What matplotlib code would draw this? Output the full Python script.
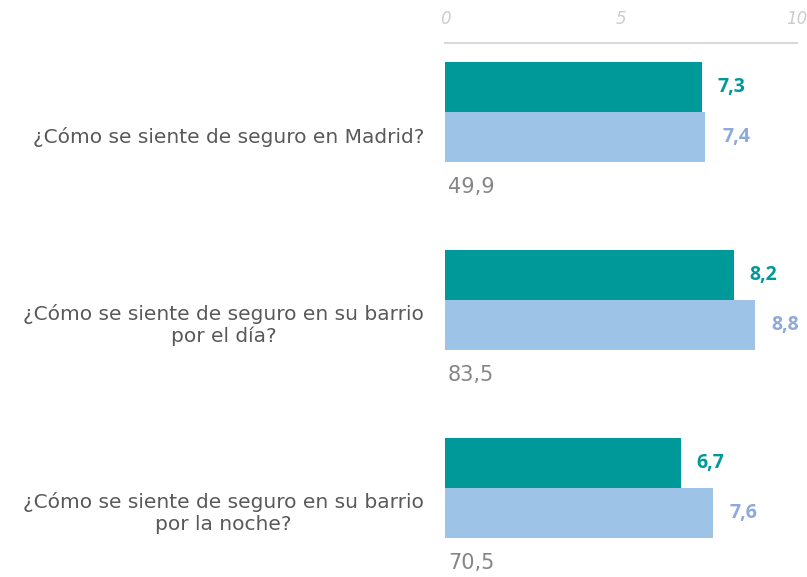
import matplotlib.pyplot as plt
import numpy as np

plt.rcParams["font.family"] = ["DejaVu Sans"]

categories = [
    "¿Cómo se siente de seguro en Madrid?",
    "¿Cómo se siente de seguro en su barrio\npor el día?",
    "¿Cómo se siente de seguro en su barrio\npor la noche?",
]
series_a = [7.3, 8.2, 6.7]
series_b = [7.4, 8.8, 7.6]
series_c = [49.9, 83.5, 70.5]
tick_values = [0, 5, 10]

teal = "#009999"
light_blue = "#9DC3E6"
blue_label = "#8EA9DB"
text_gray = "#595959"

fig = plt.figure(figsize=(8.07, 5.77), dpi=100)
ax = fig.add_axes([445 / 807, 0, 352 / 807, (577 - 43) / 577])

y = np.arange(len(categories))
h = 50 / 188

ax.barh(y - h, series_a, height=h, color=teal)
ax.barh(y, series_b, height=h, color=light_blue)
ax.barh(y + h, series_c, height=h, color="none")

for yi, va, vb, vc in zip(y, series_a, series_b, series_c):
    ax.annotate(f"{va:.1f}".replace(".", ","), (va, yi - h), xytext=(11, 0),
                textcoords="offset points", va="center", ha="left",
                color=teal, fontsize=14, fontweight="bold", family="Open Sans")
    ax.annotate(f"{vb:.1f}".replace(".", ","), (vb, yi), xytext=(12, 0),
                textcoords="offset points", va="center", ha="left",
                color=blue_label, fontsize=14, fontweight="bold", family="Open Sans")
    ax.annotate(f"{vc:.1f}".replace(".", ","), (0, yi + h), xytext=(2, 0),
                textcoords="offset points", va="center", ha="left",
                color="#858585", fontsize=15)
    ax.annotate(categories[int(yi)], (0, yi), xytext=(-15, 0),
                textcoords="offset points", va="center", ha="right",
                multialignment="center", color=text_gray, fontsize=14.5,
                linespacing=1.15, annotation_clip=False)

ax.set_xlim(0, 10)
ax.set_ylim((577 - 137) / 188, -0.5)
ax.set_xticks(tick_values)
ax.xaxis.tick_top()
ax.tick_params(axis="x", length=0, pad=11, labelsize=12, labelcolor="#CCCCCC")
for lbl in ax.get_xticklabels():
    lbl.set_fontstyle("italic")
ax.set_yticks([])
for side in ["right", "left", "bottom"]:
    ax.spines[side].set_visible(False)
ax.spines["top"].set_color("#D9D9D9")
ax.spines["top"].set_linewidth(1.5)

fig.savefig("out.png", dpi=100)
